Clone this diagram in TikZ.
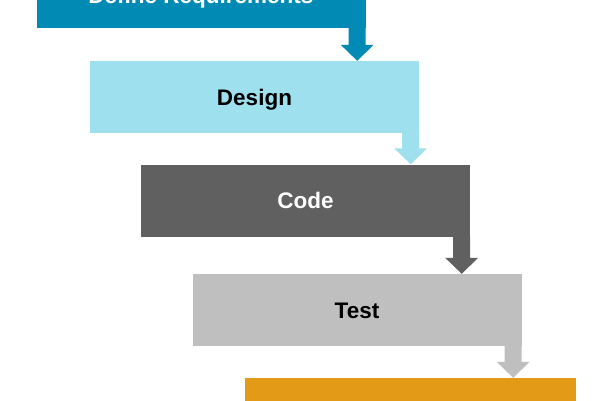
\documentclass[tikz,border=0pt]{standalone}
\usepackage{fontspec}
\setmainfont{Liberation Sans}
\usetikzlibrary{calc}
\definecolor{reqblue}{HTML}{008AB4}
\definecolor{designblue}{HTML}{9EE0EE}
\definecolor{codegray}{HTML}{606060}
\definecolor{testgray}{HTML}{BFBFBF}
\definecolor{deployorange}{HTML}{E39B17}
\tikzset{
	stage/.style={rectangle, inner sep=0pt, minimum width=329pt, minimum height=72pt,
		text height=16pt, text depth=0pt, font=\bfseries\fontsize{22.5}{26}\selectfont}
}
% block arrow from the lower right corner of one stage down to the next
\newcommand{\stagearrow}[3]{\fill[#1] let \p1=(#2.south east), \p2=(#3.north) in
	(\x1,\y1) -- (\x1,\y2+16pt) -- (\x1+8pt,\y2+16pt) -- (\x1-8.5pt,\y2)
	-- (\x1-25pt,\y2+16pt) -- (\x1-17pt,\y2+16pt) -- (\x1-17pt,\y1) -- cycle;}

\begin{document}
\begin{tikzpicture}[x=1pt, y=-1pt]
			%%%%% START %%%%%
			\useasboundingbox (0, 0) rectangle (600, 400);
			
			\node[stage, fill=reqblue, text=white, minimum height=65pt] (req) at (201, -5) {Define Requirements};
			\node[stage, fill=designblue, text=black] (design) at (254.5, 97) {Design};
			\node[stage, fill=codegray, text=white] (code) at (305.5, 200.5) {Code};
			\node[stage, fill=testgray, text=black] (test) at (357, 310) {Test};
			\node[stage, fill=deployorange, minimum width=331pt] (deploy) at (410.5, 414) {};
			
			\stagearrow{reqblue}{req}{design}
			\stagearrow{designblue}{design}{code}
			\stagearrow{codegray}{code}{test}
			\stagearrow{testgray}{test}{deploy}
			
			%%%%% END %%%%%
\end{tikzpicture}
\end{document}
